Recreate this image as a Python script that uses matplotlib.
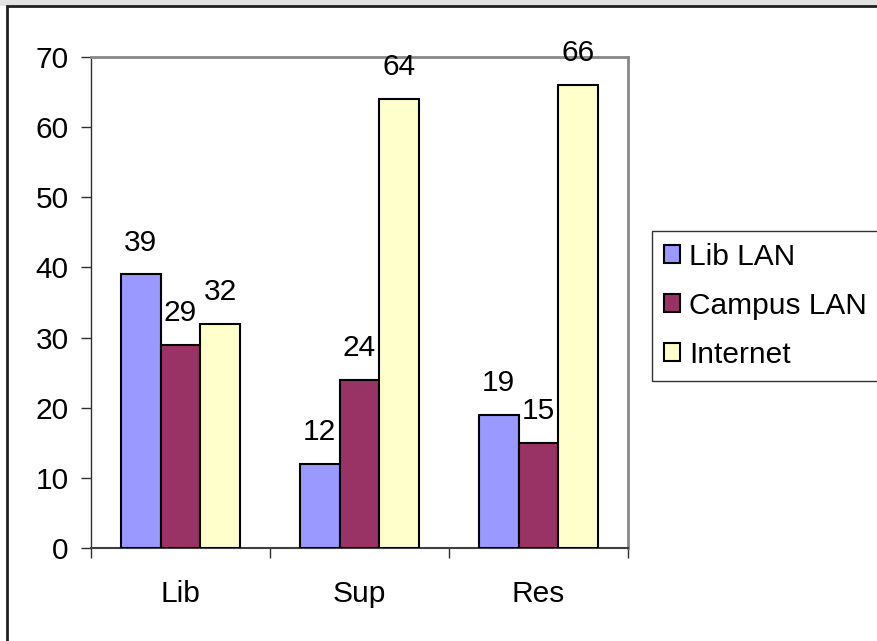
import numpy as np
import matplotlib.pyplot as plt
from matplotlib.patches import Rectangle

plt.rcParams['font.family'] = ['Liberation Sans', 'DejaVu Sans']

# chart data
categories = ['Lib', 'Sup', 'Res']
series_names = ['Lib LAN', 'Campus LAN', 'Internet']
lib_lan = [39, 12, 19]
campus_lan = [29, 24, 15]
internet = [32, 64, 66]
colors = ['#9999FF', '#993366', '#FFFFCC']

fig = plt.figure(figsize=(8.78, 6.41), dpi=100)

# outer frame like the spreadsheet chart area
fig.patches.append(Rectangle((0, 0.9906), 1, 0.0094, transform=fig.transFigure,
                             facecolor='#e2e2e2', edgecolor='none', zorder=-2))
fig.patches.append(Rectangle((0.0080, -0.05), 1.1, 1.0406, transform=fig.transFigure,
                             facecolor='white', edgecolor='#202020', linewidth=2, zorder=-1))

ax = fig.add_axes([0.1036, 0.1451, 0.6117, 0.766])
ax.set_zorder(1)

fs = 21.5
x = np.arange(len(categories))
w = 1 / 4.5
for i, (vals, name, c) in enumerate(zip([lib_lan, campus_lan, internet], series_names, colors)):
    bars = ax.bar(x + (i - 1) * w, vals, width=w, color=c, edgecolor='black',
                  linewidth=1.5, label=name, zorder=3)
    for b, v in zip(bars, vals):
        ax.annotate(str(v), (b.get_x() + b.get_width() / 2, v), xytext=(0, 17),
                    textcoords='offset points', ha='center', va='baseline', fontsize=fs)

ax.set_xlim(-0.5, 2.5)
ax.set_ylim(0, 70)
ax.set_yticks(range(0, 71, 10))
ax.set_xticks(x)
ax.set_xticklabels(categories)
ax.set_xticks([-0.5, 0.5, 1.5, 2.5], minor=True)
ax.tick_params(axis='x', which='major', length=0, pad=23, labelsize=fs)
ax.tick_params(axis='x', which='minor', length=7, width=1, direction='out', color='#303030')
ax.tick_params(axis='y', length=7, width=1, direction='out', pad=9, labelsize=fs, color='#303030')

for s in ['top', 'right']:
    ax.spines[s].set_color('#888888')
    ax.spines[s].set_linewidth(2)
ax.spines['left'].set_color('#303030')
ax.spines['left'].set_linewidth(1)
ax.spines['bottom'].set_color('#404040')
ax.spines['bottom'].set_linewidth(1.5)

leg = fig.legend(loc='upper left', bbox_to_anchor=(0.7426, 0.6396), fontsize=fs,
                 frameon=True, fancybox=False, edgecolor='black', handlelength=0.55,
                 handleheight=0.55, handletextpad=0.3, labelspacing=0.7,
                 borderpad=0.4, borderaxespad=0)
leg.get_frame().set_linewidth(1)

plt.savefig('out.png', dpi=100)
